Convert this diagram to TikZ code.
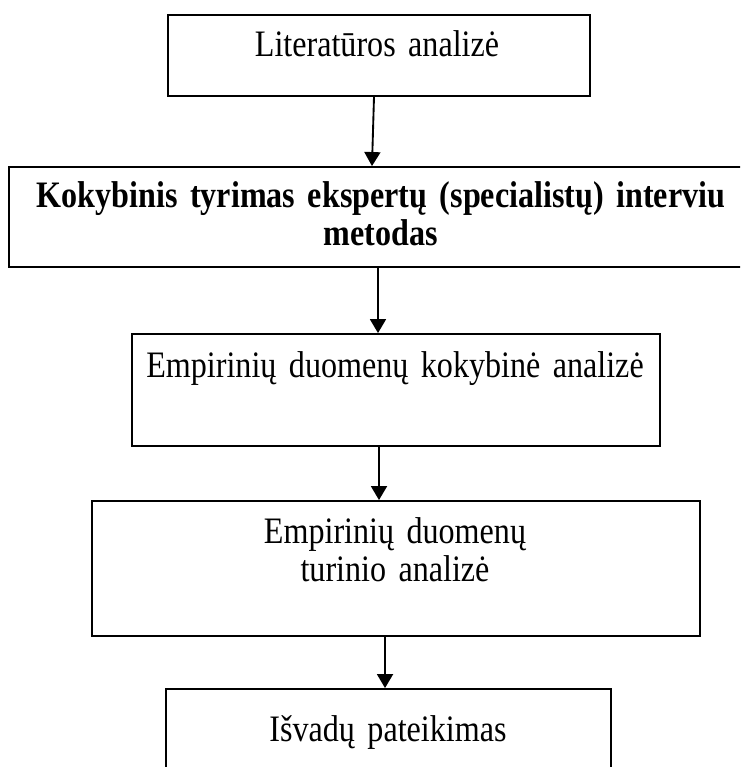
\documentclass[tikz,border=0pt]{standalone}
\usepackage{fontspec}
\setmainfont{Liberation Serif}[FakeStretch=0.86]
\usetikzlibrary{arrows.meta,fit}

\newcommand\boxfont[1]{\fontsize{28}{#1}\selectfont}

\tikzset{
  box/.style={draw, line width=1.4pt, inner sep=0pt},
  boxtext/.style={anchor=base, text width=520pt, align=center, inner sep=0pt, font=\boxfont{28.5}},
  arr/.style={line width=1.4pt, -{Triangle[length=10.5pt, width=12pt]}}
}

\begin{document}
\begin{tikzpicture}[x=0.75pt, y=-0.75pt]
        \useasboundingbox (0, 0) rectangle (740, 767);
        \clip (0, 0) rectangle (740, 767);

        \node [box, fit={(168, 15) (590, 96)}] (lit) {};
        \node [box, fit={(9, 167) (752, 267)}] (kok) {};
        \node [box, fit={(132, 334) (660, 446)}] (emp) {};
        \node [box, fit={(92, 501) (700, 636)}] (tur) {};
        \node [box, fit={(166, 689) (611, 800)}] (isv) {};

        \node [boxtext] (litT) at (377, 57) {Literatūros analizė};
        \node [boxtext, font={\boxfont{28.5}\bfseries}] (kokT) at (381, 207) {Kokybinis tyrimas ekspertų (specialistų) interviu\\metodas};
        \node [boxtext] (empT) at (395, 377) {Empirinių duomenų kokybinė analizė};
        \node [boxtext] (turT) at (395, 543) {Empirinių duomenų\\turinio analizė};
        \node [boxtext] (isvT) at (388, 741) {Išvadų pateikimas};

        \draw [arr] ([xshift=-3.75pt] lit.south) -- ([xshift=-6.4pt] kok.north);
        \draw [arr] ([xshift=-1.9pt] kok.south) -- ([xshift=-13.5pt] emp.north);
        \draw [arr] ([xshift=-12.75pt] emp.south) -- ([xshift=-12.75pt] tur.north);
        \draw [arr] ([xshift=-8.25pt] tur.south) -- ([xshift=-2.6pt] isv.north);
\end{tikzpicture}
\end{document}
